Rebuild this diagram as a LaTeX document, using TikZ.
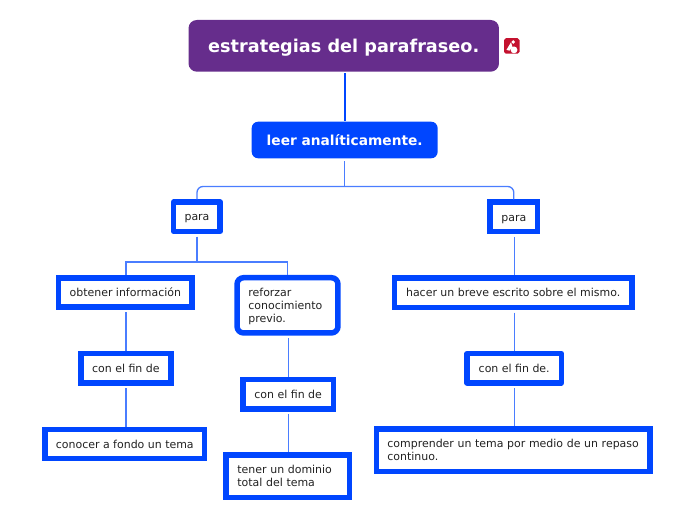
\documentclass[tikz,border=0pt]{standalone}
\usepackage{fontspec}
\setmainfont{DejaVu Sans}
\usetikzlibrary{calc}
\definecolor{Blue}{HTML}{0046FF}
\definecolor{Link}{HTML}{4A7DFF}
\definecolor{Plum}{HTML}{662D8C}
\definecolor{Ink}{HTML}{222222}
\definecolor{Badge}{HTML}{C4122F}
\tikzset{rootbox/.style={fill=Plum,rounded corners=2.2mm,text=white,align=center,
    font=\fontsize{13.3pt}{16pt}\selectfont\bfseries,text height=12pt,text depth=1.8pt,
    minimum width=82.15mm,minimum height=13.68mm},
  mainbox/.style={fill=Blue,rounded corners=1.7mm,text=white,align=center,
    font=\fontsize{10.35pt}{13pt}\selectfont\bfseries,text height=10.6pt,text depth=2pt,
    minimum width=49.2mm,minimum height=9.68mm},
  topicbase/.style={draw=Blue,fill=white,line width=1.45mm,text=Ink,inner sep=0pt,
    font=\fontsize{8.25pt}{9.75pt}\selectfont},
  topic/.style={topicbase,align=center,text height=8pt,text depth=1.6pt,minimum height=7.73mm},
  longtopic/.style={topicbase,align=left,minimum height=11.25mm},
  softtopic/.style={topic,line join=round},
  link/.style={draw=Link,line width=0.35mm,shorten <=0.7mm},
  mainlink/.style={draw=Blue,line width=0.55mm,shorten <=0.3mm},
  branch/.style={draw=Link,line width=0.35mm}}
\begin{document}
\begin{tikzpicture}[x=1cm,y=1cm]
    \useasboundingbox (0,0) rectangle (18.415,-13.758);
    \node[rootbox] (root) at (9.095,-1.213) {estrategias del parafraseo.};
    \node[fill=Badge,rounded corners=0.5mm,minimum size=4.1mm,inner sep=0pt] (badge) at (13.54,-1.215) {};
    \node[mainbox] (leer) at (9.120,-3.704) {leer analíticamente.};
    \node[softtopic,minimum width=12.3mm] (paraL) at (5.212,-5.733) {para};
    \node[topic,minimum width=12.57mm] (paraR) at (13.594,-5.736) {para};
    \node[topic,minimum width=35.24mm] (obtener) at (3.315,-7.739) {obtener información};
    \node[longtopic,rounded corners=1.7mm,text height=8.6pt,text width=20.7mm,minimum width=26.7mm,minimum height=14.6mm] (reforzar) at (7.607,-8.078)
      {reforzar\\conocimiento\\previo.};
    \node[topic,minimum width=62.84mm] (hacer) at (13.578,-7.744) {hacer un breve escrito sobre el mismo.};
    \node[topic,minimum width=23.87mm] (finA) at (3.331,-9.742) {con el fin de};
    \node[topic,minimum width=23.87mm] (finB) at (7.625,-10.430) {con el fin de};
    \node[softtopic,minimum width=24.92mm] (finC) at (13.605,-9.742) {con el fin de.};
    \node[topic,minimum width=42.2mm] (conocer) at (3.302,-11.747) {conocer a fondo un tema};
    \node[longtopic,text width=26.6mm,minimum width=32.6mm] (tener) at (7.612,-12.602)
      {tener un dominio\\total del tema};
    \node[longtopic,text width=66.6mm,minimum width=72.29mm] (comprender) at (13.581,-11.914)
      {comprender un tema por medio de un repaso\\continuo.};
    \coordinate (forkA) at (9.120,-4.934);
    \coordinate (forkB) at (5.212,-6.932);
    \fill[white] (13.40,-1.32) -- (13.52,-1.12) -- (13.56,-1.24) -- (13.48,-1.34) -- cycle;
    \fill[white] (13.60,-1.32) circle (0.09);
    \fill[white] (13.58,-1.11) circle (0.05);
    \draw[mainlink] (leer.north |- root.south) -- (leer.north);
    \draw[link] (leer.south) -- (forkA);
    \draw[branch,rounded corners=1.6mm] (paraL.north) |- (forkA) -| (paraR.north);
    \draw[link] (paraL.south) -- (forkB);
    \draw[branch] (finA.north |- obtener.north) |- (forkB) -| (reforzar.north);
    \draw[link] (finA.north |- obtener.south) -- (finA.north);
    \draw[link] (finA.south) -- (finA.south |- conocer.north);
    \draw[link] (finB.north |- reforzar.south) -- (finB.north);
    \draw[link] (finB.south) -- (finB.south |- tener.north);
    \draw[link] (finC.north |- paraR.south) -- (finC.north |- hacer.north);
    \draw[link] (finC.north |- hacer.south) -- (finC.north);
    \draw[link] (finC.south) -- (finC.south |- comprender.north);
  \end{tikzpicture}
\end{document}
